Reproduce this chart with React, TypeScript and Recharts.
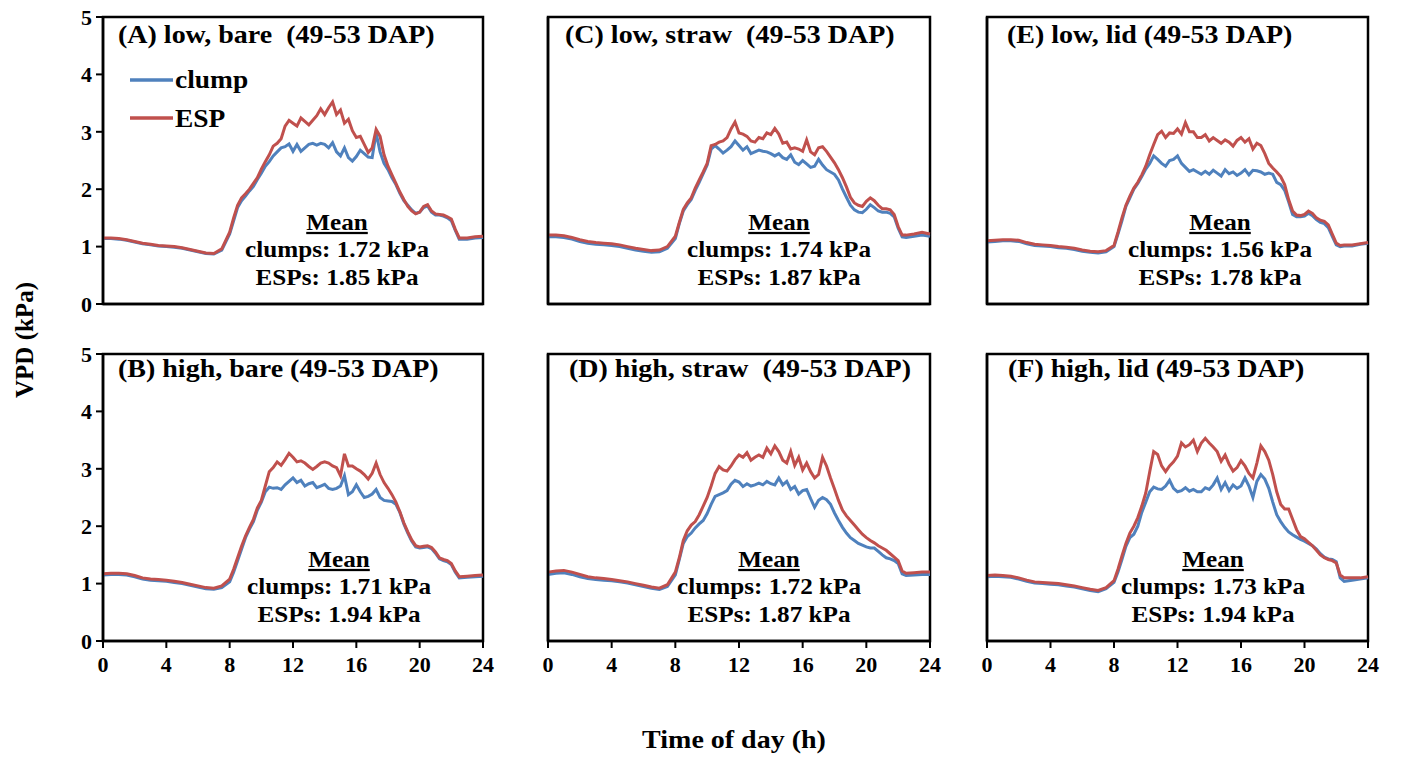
import React from "react"
import { LineChart, Line, XAxis, YAxis, ReferenceArea } from "recharts"

// time of day (h): half-hourly at night, quarter-hourly through the day
const HOURS = [
  0, 0.5, 1, 1.5, 2, 2.5, 3, 3.5, 4, 4.5, 5, 5.5, 6, 6.5, 7, 7.5,
  8, 8.25, 8.5, 8.75, 9, 9.25, 9.5, 9.75, 10, 10.25, 10.5, 10.75, 11, 11.25, 11.5, 11.75,
  12, 12.25, 12.5, 12.75, 13, 13.25, 13.5, 13.75, 14, 14.25, 14.5, 14.75, 15, 15.25, 15.5, 15.75,
  16, 16.25, 16.5, 16.75, 17, 17.25, 17.5, 17.75, 18, 18.25, 18.5, 18.75, 19, 19.25, 19.5, 19.75,
  20, 20.25, 20.5, 20.75, 21, 21.25, 21.5, 21.75, 22, 22.25, 22.5,
  23, 23.5, 24,
]

const X_TICKS = [0, 4, 8, 12, 16, 20, 24]
const Y_TICKS = [0, 1, 2, 3, 4, 5]

// (A) low, bare
const A_CLUMP = [
  1.14, 1.14, 1.13, 1.11, 1.08, 1.05, 1.03, 1.01, 1.0, 0.99, 0.97, 0.94, 0.91, 0.88, 0.87, 0.94,
  1.22, 1.45, 1.68, 1.8, 1.88, 1.97, 2.05, 2.17, 2.28, 2.4, 2.48, 2.58, 2.65, 2.72, 2.74, 2.79,
  2.66, 2.78, 2.66, 2.72, 2.78, 2.8, 2.77, 2.8, 2.78, 2.72, 2.81, 2.65, 2.58, 2.72, 2.55, 2.49,
  2.57, 2.68, 2.62, 2.56, 2.55, 2.98, 2.65, 2.45, 2.34, 2.2, 2.08, 1.93, 1.8, 1.72, 1.64, 1.58,
  1.6, 1.68, 1.71, 1.6, 1.55, 1.55, 1.53, 1.5, 1.45, 1.28, 1.13,
  1.13, 1.15, 1.16,
]
const A_ESP = [
  1.15, 1.15, 1.14, 1.12, 1.09, 1.06, 1.04, 1.02, 1.01, 1.0, 0.98, 0.95, 0.92, 0.89, 0.88, 0.96,
  1.25, 1.5, 1.72, 1.85, 1.92, 2.0, 2.1, 2.2, 2.35, 2.48, 2.6, 2.75, 2.8, 2.88, 3.1, 3.2,
  3.15, 3.1, 3.24, 3.18, 3.12, 3.2, 3.28, 3.4, 3.3, 3.42, 3.52, 3.3, 3.38, 3.15, 3.22, 3.02,
  2.9, 2.92, 2.78, 2.64, 2.72, 3.04, 2.92, 2.6, 2.4, 2.25, 2.1, 1.95, 1.82, 1.7, 1.62, 1.57,
  1.6, 1.7, 1.73, 1.62, 1.57, 1.56, 1.55, 1.52, 1.48, 1.3, 1.15,
  1.15, 1.17, 1.18,
]

// (B) high, bare
const B_CLUMP = [
  1.15, 1.16, 1.16, 1.15, 1.12, 1.08, 1.06, 1.05, 1.04, 1.02, 1.0, 0.97, 0.94, 0.91, 0.9, 0.93,
  1.03, 1.2, 1.4, 1.6, 1.8, 1.95, 2.08, 2.28, 2.42, 2.6, 2.68, 2.66, 2.67, 2.64, 2.72, 2.78,
  2.84, 2.76, 2.8, 2.7, 2.74, 2.76, 2.67, 2.7, 2.73, 2.66, 2.64, 2.66, 2.7, 2.88, 2.55, 2.6,
  2.72, 2.6, 2.5, 2.52, 2.56, 2.64, 2.5, 2.45, 2.44, 2.43, 2.38, 2.24, 2.04, 1.88, 1.74, 1.64,
  1.62, 1.63, 1.64, 1.61, 1.53, 1.43, 1.4, 1.38, 1.33, 1.2, 1.1,
  1.11, 1.12, 1.13,
]
const B_ESP = [
  1.17, 1.18, 1.18, 1.17, 1.14, 1.1, 1.08, 1.07, 1.06, 1.04, 1.02, 0.99, 0.96, 0.93, 0.92, 0.96,
  1.08, 1.25, 1.45, 1.65, 1.83, 1.98, 2.12, 2.32, 2.45, 2.7, 2.95, 3.02, 3.12, 3.06, 3.16, 3.27,
  3.2, 3.12, 3.14, 3.1, 3.04, 2.99, 3.04, 3.1, 3.12, 3.1, 3.05, 3.02, 2.88, 3.26, 3.05, 3.05,
  3.0, 2.96, 2.9, 2.82, 2.92, 3.1, 2.9, 2.76, 2.66, 2.55, 2.42, 2.25, 2.06, 1.9, 1.76, 1.66,
  1.64, 1.65, 1.66, 1.63, 1.55, 1.45, 1.42, 1.4, 1.35, 1.22, 1.12,
  1.13, 1.14, 1.15,
]

// (C) low, straw
const C_CLUMP = [
  1.17, 1.17, 1.16, 1.13, 1.09, 1.06, 1.04, 1.03, 1.02, 1.0, 0.97, 0.94, 0.92, 0.9, 0.91, 0.97,
  1.14, 1.4, 1.62, 1.73, 1.82, 1.98, 2.12, 2.27, 2.42, 2.7, 2.76, 2.7, 2.63, 2.68, 2.74, 2.84,
  2.76, 2.68, 2.74, 2.62, 2.65, 2.68, 2.66, 2.65, 2.62, 2.58, 2.62, 2.55, 2.52, 2.6, 2.47, 2.43,
  2.5, 2.44, 2.38, 2.4, 2.52, 2.42, 2.34, 2.3, 2.26, 2.16, 2.0, 1.86, 1.72, 1.64, 1.6, 1.59,
  1.65, 1.73, 1.68, 1.62, 1.6, 1.6, 1.58, 1.52, 1.32, 1.17, 1.16,
  1.18, 1.2, 1.18,
]
const C_ESP = [
  1.2, 1.2, 1.19, 1.16, 1.12, 1.09, 1.07, 1.06, 1.05, 1.03, 1.0, 0.97, 0.95, 0.93, 0.94, 1.0,
  1.18, 1.42, 1.65, 1.76, 1.85, 2.02, 2.16, 2.3, 2.45, 2.76, 2.78, 2.82, 2.84, 2.9, 3.05, 3.17,
  2.98, 2.96, 2.92, 2.84, 2.82, 2.9, 2.88, 2.98, 2.95, 3.06, 2.96, 2.8, 2.82, 2.7, 2.72, 2.7,
  2.66, 2.86, 2.65, 2.6, 2.72, 2.74, 2.66, 2.56, 2.46, 2.34, 2.2, 2.04, 1.86, 1.76, 1.72, 1.7,
  1.79, 1.85, 1.8, 1.72, 1.66, 1.66, 1.64, 1.56, 1.35, 1.2, 1.2,
  1.22, 1.25, 1.22,
]

// (D) high, straw
const D_CLUMP = [
  1.16, 1.18, 1.19, 1.16, 1.12, 1.09, 1.07, 1.06, 1.05, 1.03, 1.01, 0.98, 0.95, 0.92, 0.9, 0.95,
  1.15, 1.42, 1.7, 1.82, 1.88, 1.97, 2.04, 2.1, 2.22, 2.38, 2.52, 2.55, 2.58, 2.62, 2.73, 2.8,
  2.77, 2.69, 2.74, 2.7, 2.72, 2.75, 2.72, 2.78, 2.74, 2.72, 2.84, 2.72, 2.78, 2.64, 2.69, 2.56,
  2.62, 2.64, 2.48, 2.33, 2.45, 2.5, 2.46, 2.38, 2.23, 2.1, 1.98, 1.88, 1.8, 1.75, 1.7, 1.67,
  1.64, 1.62, 1.62, 1.56, 1.5, 1.45, 1.43, 1.4, 1.35, 1.17, 1.14,
  1.15, 1.16, 1.16,
]
const D_ESP = [
  1.2, 1.22, 1.23, 1.2, 1.16, 1.12, 1.1, 1.09, 1.07, 1.05, 1.03, 1.0, 0.97, 0.94, 0.92, 0.98,
  1.2, 1.45, 1.75, 1.92, 2.02, 2.08, 2.2, 2.35, 2.5, 2.7, 2.92, 3.04, 2.98, 2.96, 3.05, 3.16,
  3.24, 3.2, 3.28, 3.15, 3.2, 3.24, 3.2, 3.36, 3.26, 3.4, 3.3, 3.15, 3.1, 3.3, 3.06, 3.2,
  2.98, 3.1, 2.95, 2.84, 2.9, 3.2, 3.05, 2.84, 2.65, 2.45, 2.28, 2.18, 2.1, 2.02, 1.94, 1.86,
  1.8, 1.75, 1.71, 1.66, 1.62, 1.58, 1.52, 1.46, 1.4, 1.22, 1.18,
  1.19, 1.2, 1.2,
]

// (E) low, lid
const E_CLUMP = [
  1.08, 1.09, 1.1, 1.1, 1.09, 1.05, 1.02, 1.01, 1.0, 0.98, 0.97, 0.95, 0.92, 0.9, 0.89, 0.91,
  1.0, 1.22, 1.45, 1.7, 1.85, 2.0, 2.1, 2.22, 2.35, 2.45, 2.58, 2.52, 2.45, 2.4, 2.5, 2.52,
  2.58, 2.45, 2.38, 2.31, 2.34, 2.3, 2.26, 2.31, 2.26, 2.33, 2.28, 2.23, 2.34, 2.27, 2.3, 2.24,
  2.28, 2.34, 2.25, 2.33, 2.32, 2.3, 2.26, 2.28, 2.26, 2.12, 2.08, 1.98, 1.78, 1.56, 1.52, 1.52,
  1.53, 1.58, 1.54, 1.47, 1.42, 1.4, 1.33, 1.18, 1.03, 1.0, 1.01,
  1.01, 1.04, 1.06,
]
const E_ESP = [
  1.1, 1.11, 1.12, 1.12, 1.11, 1.07, 1.04, 1.03, 1.02, 1.0, 0.99, 0.97, 0.94, 0.92, 0.91, 0.93,
  1.02, 1.25, 1.5, 1.72, 1.88, 2.02, 2.12, 2.25, 2.4, 2.6, 2.78, 2.95, 3.01, 2.9, 2.98, 2.97,
  3.05, 2.96, 3.16, 3.0, 3.0, 2.9, 2.9, 2.95, 2.84, 2.9, 2.85, 2.8, 2.86, 2.82, 2.75, 2.85,
  2.9, 2.82, 2.88, 2.7, 2.8, 2.76, 2.62, 2.45, 2.37, 2.3, 2.22, 2.08, 1.82, 1.62, 1.55, 1.54,
  1.56, 1.62, 1.58, 1.5, 1.46, 1.44, 1.38, 1.22, 1.06, 1.02, 1.03,
  1.03, 1.05, 1.07,
]

// (F) high, lid
const F_CLUMP = [
  1.12, 1.13, 1.12, 1.11, 1.08, 1.04, 1.01, 1.0, 0.99, 0.98, 0.96, 0.94, 0.91, 0.88, 0.86, 0.91,
  1.02, 1.2, 1.42, 1.65, 1.8, 1.86, 2.0, 2.24, 2.42, 2.6, 2.68, 2.65, 2.64, 2.7, 2.8, 2.66,
  2.6, 2.62, 2.67, 2.61, 2.64, 2.6, 2.6, 2.67, 2.64, 2.72, 2.84, 2.64, 2.76, 2.62, 2.72, 2.66,
  2.7, 2.84, 2.7, 2.5, 2.78, 2.9, 2.82, 2.66, 2.42, 2.2, 2.08, 1.98, 1.9, 1.85, 1.81, 1.77,
  1.74, 1.7, 1.66, 1.6, 1.52, 1.46, 1.43, 1.42, 1.38, 1.1, 1.04,
  1.06, 1.08, 1.1,
]
const F_ESP = [
  1.14, 1.15, 1.14, 1.13, 1.1, 1.06, 1.03, 1.02, 1.01, 1.0, 0.98, 0.96, 0.93, 0.9, 0.88, 0.93,
  1.05, 1.25, 1.48, 1.7, 1.88, 2.0, 2.15, 2.35, 2.58, 2.95, 3.3, 3.25, 3.05, 2.95, 3.05, 3.12,
  3.22, 3.45, 3.38, 3.42, 3.5, 3.3, 3.45, 3.53, 3.45, 3.38, 3.3, 3.13, 3.24, 3.08, 2.96, 3.02,
  3.14, 3.05, 2.92, 2.84, 3.1, 3.4, 3.3, 3.15, 2.9, 2.6, 2.38, 2.3, 2.3, 2.12, 1.94, 1.82,
  1.78, 1.72, 1.66, 1.58, 1.5, 1.45, 1.42, 1.4, 1.36, 1.15, 1.1,
  1.1, 1.1, 1.12,
]

const BLUE = "#4F81BD"
const RED = "#C0504D"
const FONT = "'Liberation Serif', 'Times New Roman', serif"
const STRETCH = 1.12

// plot-area geometry of the 3x2 grid
const COL_X = [103, 548, 987]
const COL_W = [380, 382, 381]
const ROW_Y = [17, 354]
const PLOT_H = 287
const PAD_TOP = 20

const panels = [
  { title: "(A) low, bare  (49-53 DAP)", clump: A_CLUMP, esp: A_ESP, mClump: "1.72", mEsp: "1.85", col: 0, row: 0, tx: 118, mx: 337 },
  { title: "(C) low, straw  (49-53 DAP)", clump: C_CLUMP, esp: C_ESP, mClump: "1.74", mEsp: "1.87", col: 1, row: 0, tx: 565, mx: 779 },
  { title: "(E) low, lid (49-53 DAP)", clump: E_CLUMP, esp: E_ESP, mClump: "1.56", mEsp: "1.78", col: 2, row: 0, tx: 1007, mx: 1220 },
  { title: "(B) high, bare (49-53 DAP)", clump: B_CLUMP, esp: B_ESP, mClump: "1.71", mEsp: "1.94", col: 0, row: 1, tx: 118, mx: 339 },
  { title: "(D) high, straw  (49-53 DAP)", clump: D_CLUMP, esp: D_ESP, mClump: "1.72", mEsp: "1.87", col: 1, row: 1, tx: 569, mx: 769 },
  { title: "(F) high, lid (49-53 DAP)", clump: F_CLUMP, esp: F_ESP, mClump: "1.73", mEsp: "1.94", col: 2, row: 1, tx: 1008, mx: 1213 },
]

const tickStyle = { fill: "#000", fontSize: 22, fontWeight: "bold", fontFamily: FONT }

function Panel({ p }: { p: (typeof panels)[number] }) {
  const data = HOURS.map((t, i) => ({ t, clump: p.clump[i], esp: p.esp[i] }))
  const w = COL_W[p.col]
  const left = COL_X[p.col] - 60
  const top = ROW_Y[p.row] - PAD_TOP
  const showX = p.row === 1
  const showY = p.col === 0
  return (
    <div style={{ position: "absolute", left, top }}>
      <LineChart width={w + 80} height={PLOT_H + PAD_TOP + 40} data={data} margin={{ top: PAD_TOP, right: 20, bottom: 0, left: 0 }}>
        <XAxis
          type="number"
          dataKey="t"
          domain={[0, 24]}
          ticks={X_TICKS}
          interval={0}
          height={40}
          tick={showX ? tickStyle : false}
          tickSize={7}
          tickMargin={8}
          axisLine={{ stroke: "#000", strokeWidth: 2.5 }}
          tickLine={{ stroke: "#000", strokeWidth: 2 }}
        />
        <YAxis
          type="number"
          domain={[0, 5]}
          ticks={Y_TICKS}
          interval={0}
          width={60}
          tick={showY ? tickStyle : false}
          tickSize={7}
          tickMargin={4}
          axisLine={{ stroke: "#000", strokeWidth: 2.5 }}
          tickLine={{ stroke: "#000", strokeWidth: 2 }}
        />
        <ReferenceArea x1={0} x2={24} y1={0} y2={5} fill="none" fillOpacity={0} stroke="#000" strokeWidth={2.5} ifOverflow="visible" />
        <Line type="linear" dataKey="clump" stroke={BLUE} strokeWidth={3} dot={false} isAnimationActive={false} />
        <Line type="linear" dataKey="esp" stroke={RED} strokeWidth={3} dot={false} isAnimationActive={false} />
      </LineChart>
    </div>
  )
}

function Txt({ x, y, size, anchor = "start", underline = false, children }: any) {
  return (
    <text
      transform={`translate(${x},${y}) scale(${STRETCH},1)`}
      textAnchor={anchor}
      fontFamily={FONT}
      fontWeight="bold"
      fontSize={size}
      fill="#000"
      style={{ whiteSpace: "pre", textDecoration: underline ? "underline" : "none" }}
    >
      {children}
    </text>
  )
}

export default function App() {
  return (
    <div style={{ position: "absolute", left: 0, top: 0, width: 1402, height: 757, background: "#fff", overflow: "hidden" }}>
      {panels.map((p) => (
        <Panel key={p.title} p={p} />
      ))}
      <svg width={1402} height={757} style={{ position: "absolute", left: 0, top: 0, pointerEvents: "none" }}>
        {panels.map((p) => {
          const off = p.row === 0 ? 0 : 337
          return (
            <g key={p.title}>
              <Txt x={p.tx} y={43 + (p.row === 0 ? 0 : 334)} size={25}>{p.title}</Txt>
              <Txt x={p.mx} y={230 + off} size={22.5} anchor="middle" underline>Mean</Txt>
              <Txt x={p.mx} y={257 + off} size={22.5} anchor="middle">{`clumps: ${p.mClump} kPa`}</Txt>
              <Txt x={p.mx} y={285 + off} size={22.5} anchor="middle">{`ESPs: ${p.mEsp} kPa`}</Txt>
            </g>
          )
        })}
        {/* legend in panel A */}
        <line x1={130} x2={173} y1={80} y2={80} stroke={BLUE} strokeWidth={3.5} />
        <line x1={130} x2={173} y1={118} y2={118} stroke={RED} strokeWidth={3.5} />
        <Txt x={175} y={88} size={24.5}>clump</Txt>
        <Txt x={175} y={127} size={24.5}>ESP</Txt>
        {/* axis titles */}
        <text transform="translate(33,340) rotate(-90)" textAnchor="middle" fontFamily={FONT} fontWeight="bold" fontSize={25} fill="#000">
          VPD (kPa)
        </text>
        <Txt x={734} y={748} size={25} anchor="middle">Time of day (h)</Txt>
      </svg>
    </div>
  )
}
